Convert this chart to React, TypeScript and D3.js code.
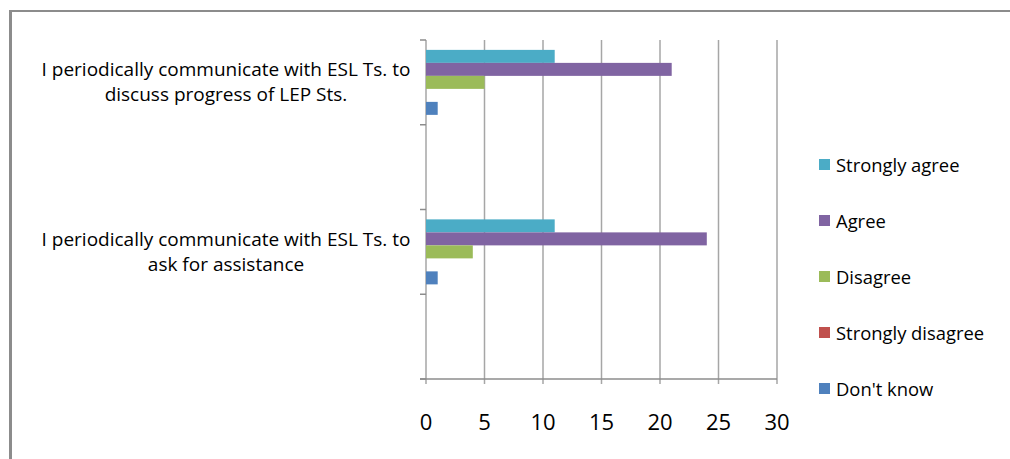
import React from "react";
import * as d3 from "d3";

// Survey statements (top to bottom); the blank entries are empty rows of the sheet
const categories = [
  "I periodically communicate with ESL Ts. to discuss progress of LEP Sts.",
  "",
  "I periodically communicate with ESL Ts. to ask for assistance",
  "",
];
const categoryLines = [
  ["I periodically communicate with ESL Ts. to", "discuss progress of LEP Sts."],
  [],
  ["I periodically communicate with ESL Ts. to", "ask for assistance"],
  [],
];

// Response series, listed top-down as they appear in each group
const seriesNames = ["Strongly agree", "Agree", "Disagree", "Strongly disagree", "Don't know"];
const seriesColors = ["#4BACC6", "#8064A2", "#9BBB59", "#C0504D", "#4F81BD"];
const stronglyAgree = [11, null, 11, null];
const agree = [21, null, 24, null];
const disagree = [5, null, 4, null];
const stronglyDisagree = [0, null, 0, null];
const dontKnow = [1, null, 1, null];
const seriesValues = [stronglyAgree, agree, disagree, stronglyDisagree, dontKnow];

const xTicks = [0, 5, 10, 15, 20, 25, 30];

const W = 1010;
const H = 459;
const FONT = "'Open Sans', 'DejaVu Sans', sans-serif";

export default function App() {
  const plotLeft = 426;
  const plotRight = 777;
  const plotTop = 40;
  const plotBottom = 379;

  const x = d3.scaleLinear().domain([0, 30]).range([plotLeft, plotRight]);
  const y = d3.scaleBand<string>()
    .domain(categories.map((_, i) => String(i)))
    .range([plotTop, plotBottom])
    .paddingInner(0)
    .paddingOuter(0);
  const sub = d3.scaleBand<string>()
    .domain(seriesNames)
    .range([0, y.bandwidth()])
    .paddingInner(0)
    .paddingOuter(0.76);

  const bounds = d3.range(categories.length + 1).map((i) =>
    i < categories.length ? (y(String(i)) as number) : plotBottom
  );

  const legendTop = 164.5;
  const legendStep = 56;

  return (
    <svg
      width={W}
      height={H}
      style={{ position: "absolute", left: 0, top: 0, background: "#fff" }}
      fontFamily={FONT}
    >
      <rect x={0} y={0} width={W} height={H} fill="#fff" />
      {/* outer chart frame */}
      <line x1={9} y1={11} x2={W} y2={11} stroke="#8c8c8c" strokeWidth={2} />
      <line x1={10.5} y1={10} x2={10.5} y2={H} stroke="#8c8c8c" strokeWidth={3} />

      {/* vertical gridlines */}
      {xTicks.map((t) => (
        <line
          key={"g" + t}
          x1={x(t)}
          x2={x(t)}
          y1={plotTop}
          y2={plotBottom + 5}
          stroke="#a6a6a6"
          strokeWidth={1.5}
        />
      ))}
      {/* horizontal axis line */}
      <line x1={plotLeft - 6} x2={plotRight} y1={plotBottom} y2={plotBottom} stroke="#8c8c8c" strokeWidth={1.5} />
      {/* category tick marks */}
      {bounds.map((b, i) => (
        <line key={"ct" + i} x1={plotLeft - 6} x2={plotLeft} y1={b} y2={b} stroke="#8c8c8c" strokeWidth={1.5} />
      ))}

      {/* bars */}
      {categories.map((c, ci) =>
        seriesNames.map((s, si) => {
          const v = seriesValues[si][ci];
          if (v == null || v === 0) return null;
          const by = (y(String(ci)) as number) + (sub(s) as number);
          return (
            <rect
              key={c + s + ci}
              x={x(0)}
              y={by}
              width={x(v) - x(0)}
              height={sub.bandwidth()}
              fill={seriesColors[si]}
            />
          );
        })
      )}

      {/* x tick labels */}
      {xTicks.map((t) => (
        <text key={"xl" + t} x={x(t)} y={430} textAnchor="middle" fontSize={22} fill="#000">
          {t}
        </text>
      ))}

      {/* category labels */}
      {categoryLines.map((lines, ci) => {
        const cy = (y(String(ci)) as number) + y.bandwidth() / 2;
        const lh = 25;
        const start = cy - ((lines.length - 1) * lh) / 2;
        return lines.map((ln, li) => (
          <text
            key={"cl" + ci + li}
            x={226}
            y={start + li * lh + 6.5}
            textAnchor="middle"
            fontSize={19}
            fill="#000"
          >
            {ln}
          </text>
        ));
      })}

      {/* legend */}
      {seriesNames.map((s, i) => {
        const cy = legendTop + i * legendStep;
        return (
          <g key={"lg" + s}>
            <rect x={819} y={cy - 5.5} width={11} height={11} fill={seriesColors[i]} />
            <text x={836} y={cy + 7} fontSize={18.4} fill="#000">
              {s}
            </text>
          </g>
        );
      })}
    </svg>
  );
}
